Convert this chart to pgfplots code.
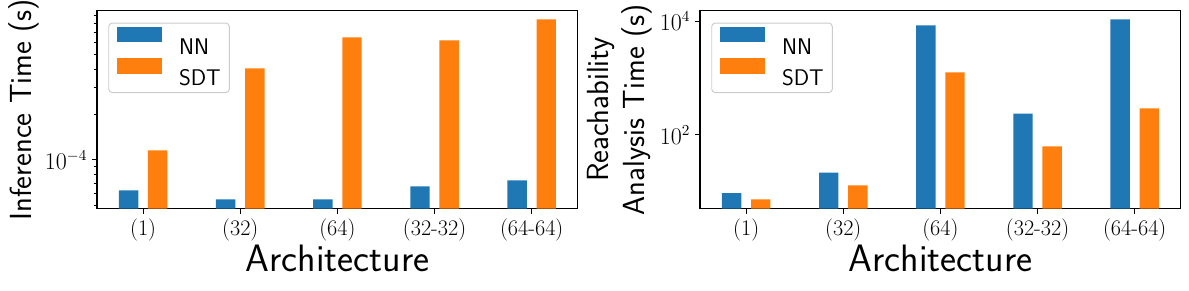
\documentclass[border=0pt]{standalone}
\usepackage{pgfplots}
\pgfplotsset{compat=1.18}
\definecolor{tabblue}{HTML}{1F77B4}
\definecolor{taborange}{HTML}{FF7F0E}
\pgfplotsset{
  mycommon/.style={
    scale only axis, width=346.2pt, height=142.56pt,
    xmin=-0.475, xmax=4.475,
    xtick={0,1,2,3,4}, xticklabels={(1),(32),(64),(32-32),(64-64)},
    tick align=outside, tick pos=left,
    major tick length=3.6pt, minor tick length=2.4pt,
    axis line style={line width=0.8pt},
    tick style={line width=0.8pt, black},
    minor tick style={line width=0.6pt, black},
    tick label style={font=\fontsize{16}{19}\selectfont},
    xlabel={Architecture},
    xlabel style={at={(axis description cs:0.5,-0.3185)}, anchor=base, inner sep=0pt, font=\fontsize{27.5}{33}\sffamily},
    ylabel style={inner sep=0pt, align=center, font=\fontsize{22}{26.4}\sffamily},
    legend style={at={(axis description cs:0,1)}, anchor=north west, xshift=8.1pt, yshift=-8.6pt,
      draw=black!20, line width=0.7pt, rounded corners=2.5pt, fill=white,
      font=\fontsize{16.3}{19}\sffamily, inner xsep=6.2pt, inner ysep=2.55pt, row sep=0pt,
      nodes={inner sep=0pt, text height=19.75pt, text depth=2.55pt},
      /tikz/every odd column/.append style={column sep=12.2pt}},
    legend cell align=left,
  },
  nnbar/.style={ybar, bar width=0.2, bar shift=-0.15, fill=tabblue, draw=none,
    legend image code/.code={\fill[tabblue, sharp corners] (0pt,0pt) rectangle (32.2pt,11.3pt);}},
  sdtbar/.style={ybar, bar width=0.2, bar shift=0.15, fill=taborange, draw=none,
    legend image code/.code={\fill[taborange, sharp corners] (0pt,0pt) rectangle (32.2pt,11.3pt);}},
}
\begin{document}
\begin{tikzpicture}
\path[use as bounding box] (0,0) rectangle (856.08pt,208.8pt);
\begin{axis}[
  ymode=log, log origin=infty,
  mycommon,
  at={(69.84pt,58.54pt)}, anchor=south west,
  ymin=4.75e-5, ymax=9.72e-4,
  ytick={1e-4},
  minor ytick={5e-5,6e-5,7e-5,8e-5,9e-5,2e-4,3e-4,4e-4,5e-4,6e-4,7e-4,8e-4,9e-4},
  ylabel={Inference Time (s)},
  ylabel style={at={(axis description cs:-0.1358,0.5)}, anchor=base},
]
\addplot[nnbar] coordinates {(0,6.28e-5) (1,5.47e-5) (2,5.47e-5) (3,6.68e-5) (4,7.31e-5)};
\addlegendentry{NN}
\addplot[sdtbar] coordinates {(0,1.156e-4) (1,4.04e-4) (2,6.48e-4) (3,6.19e-4) (4,8.52e-4)};
\addlegendentry{SDT}
\end{axis}
\begin{axis}[
  ymode=log, log origin=infty,
  mycommon,
  at={(504pt,58.54pt)}, anchor=south west,
  ymin=4.97, ymax=15400,
  ytick={1e2,1e4}, yminorticks=false,
  ylabel={Reachability\\Analysis Time (s)},
  ylabel style={at={(axis description cs:-0.0985,0.5)}, anchor=south},
]
\addplot[nnbar] coordinates {(0,9.33) (1,21.6) (2,8470) (3,237) (4,10800)};
\addlegendentry{NN}
\addplot[sdtbar] coordinates {(0,7.22) (1,12.8) (2,1256) (3,62.2) (4,291)};
\addlegendentry{SDT}
\end{axis}
\end{tikzpicture}
\end{document}
